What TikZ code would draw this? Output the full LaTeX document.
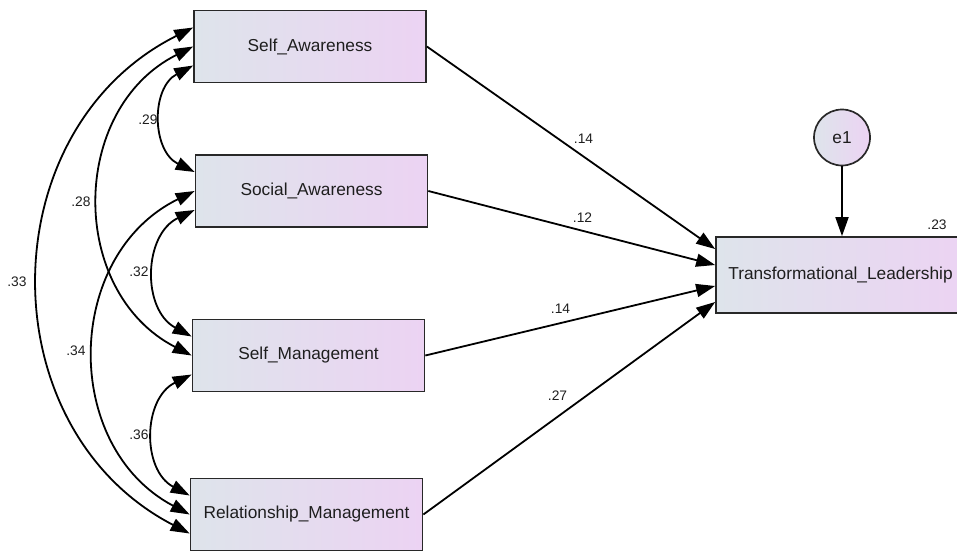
\documentclass[tikz,border=0pt]{standalone}
\usepackage{fontspec}
\setmainfont{Liberation Sans}
\usetikzlibrary{arrows.meta,calc}
\definecolor{boxleft}{RGB}{222,228,235}
\definecolor{boxright}{RGB}{236,211,243}
\definecolor{edgecol}{RGB}{40,40,40}
\definecolor{txt}{RGB}{30,30,30}
\tikzset{
  varbox/.style={draw=edgecol, line width=1.7pt, left color=boxleft, right color=boxright,
    minimum width=232pt, minimum height=72pt, inner sep=0pt, text=txt,
    font=\fontsize{17.3}{20}\selectfont},
  errcirc/.style={circle, draw=edgecol, line width=1.7pt, left color=boxleft, right color=boxright,
    minimum size=56pt, inner sep=0pt, text=txt, font=\fontsize{17.3}{20}\selectfont},
  coef/.style={text=txt, inner sep=0pt, font=\fontsize{13.8}{15}\selectfont},
  path1/.style={line width=1.8pt, draw=black, -{Triangle[length=19pt,width=13pt]}},
  cov/.style={line width=1.8pt, draw=black, {Triangle[length=19pt,width=13pt]}-{Triangle[length=19pt,width=13pt]}, bend right=63, looseness=1.15}
}
\begin{document}
\begin{tikzpicture}[x=1pt,y=-1pt]
\useasboundingbox (0,0) rectangle (957,552);
\clip (0,0) rectangle (957,552);
\node[varbox] (sa) at (310,46.5) {Self\_Awareness};
\node[varbox] (soa) at (311.5,191) {Social\_Awareness};
\node[varbox] (sm) at (308.5,355.5) {Self\_Management};
\node[varbox] (rm) at (306.5,514.5) {Relationship\_Management};
\node[varbox, minimum width=249pt, minimum height=76pt] (tl) at (840.5,275) {Transformational\_Leadership};
\node[errcirc] (e1) at (842,137.5) {e1};

% regression paths
\draw[path1] (sa.east) -- ([yshift=26pt]tl.west);
\draw[path1] (soa.east) -- ([yshift=10pt]tl.west);
\draw[path1] (sm.east) -- ([yshift=-11pt]tl.west);
\draw[path1] (rm.east) -- ([yshift=-27pt]tl.west);
\draw[path1] (e1.south) -- (e1.south |- tl.north);

% covariances
\draw[cov] ([yshift=-19pt]sa.west) to ([yshift=19pt]soa.west);
\draw[cov] (sa.west) to (sm.west);
\draw[cov] ([yshift=19pt]sa.west) to ([yshift=-19pt]rm.west);
\draw[cov] ([yshift=-19pt]soa.west) to ([yshift=19pt]sm.west);
\draw[cov] (soa.west) to (rm.west);
\draw[cov] ([yshift=-19pt]sm.west) to ([yshift=19pt]rm.west);

% coefficients
\node[coef] (c29) at (148,120) {.29};
\node[coef] (c28) at (81,202) {.28};
\node[coef] (c33) at (17,282) {.33};
\node[coef] (c32) at (139,272) {.32};
\node[coef] (c34) at (76,351) {.34};
\node[coef] (c36) at (139,435) {.36};
\node[coef] (p1) at (583.5,138.5) {.14};
\node[coef] (p2) at (582.5,217.5) {.12};
\node[coef] (p3) at (560.5,308.5) {.14};
\node[coef] (p4) at (557.5,396) {.27};
\node[coef] (r2) at (937,225) {.23};
\end{tikzpicture}
\end{document}
